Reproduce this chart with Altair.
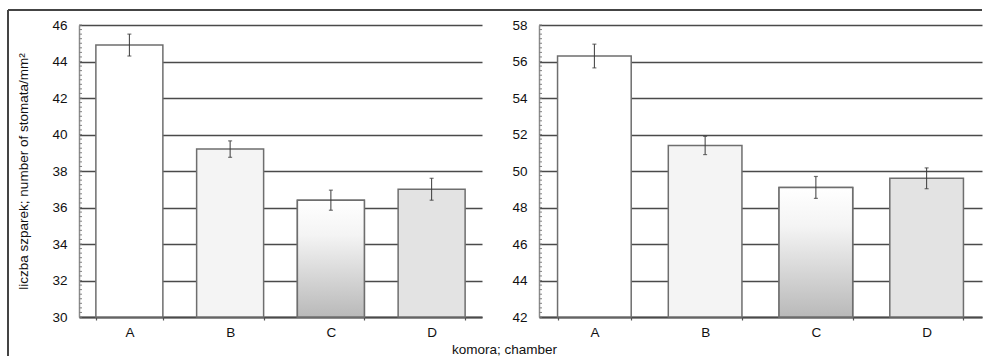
import altair as alt
import pandas as pd

# Stomata counts per chamber, two measurement series (left and right panel)
categories = ["A", "B", "C", "D"]
left_values = [44.9, 39.2, 36.4, 37.0]
left_errors = [0.6, 0.45, 0.55, 0.6]
right_values = [56.3, 51.4, 49.1, 49.6]
right_errors = [0.65, 0.5, 0.6, 0.57]
left_ticks = [30, 32, 34, 36, 38, 40, 42, 44, 46]
right_ticks = [42, 44, 46, 48, 50, 52, 54, 56, 58]
bar_fills = ["#ffffff", "#f4f4f4", "#eeeeee", "#e3e3e3"]

FONT = "Liberation Sans"
PANEL_H = 292
LEFT_W = 403
RIGHT_W = 443
GAP = 57
INK = "#4a4a4a"

c_gradient = alt.LinearGradient(
    gradient="linear",
    x1=0, y1=0, x2=0, y2=1,
    stops=[
        alt.GradientStop(color="#ffffff", offset=0),
        alt.GradientStop(color="#f4f4f4", offset=0.3),
        alt.GradientStop(color="#b9b9b9", offset=1),
    ],
)


def panel(values, errors, ticks, width, first):
    df = pd.DataFrame({
        "cat": categories,
        "value": values,
        "lo": [v - e for v, e in zip(values, errors)],
        "hi": [v + e for v, e in zip(values, errors)],
    })
    lo, hi = ticks[0], ticks[-1]
    minor = [lo + 0.25 * i for i in range(int((hi - lo) * 4) + 1)]

    yscale = alt.Scale(domain=[lo, hi], nice=False, zero=False)
    xscale = alt.Scale(domain=categories, paddingInner=0.335, paddingOuter=0.1675)

    x_kw = dict(labelAngle=0, tickBand="extent", ticks=True, tickSize=3,
                tickColor="#555555", tickWidth=1.2, domainColor=INK,
                domainWidth=2, labelPadding=5, grid=False,
                labelFontSize=13.5)
    y_kw = dict(values=ticks, grid=True, gridColor=INK, gridWidth=1.6,
                ticks=False, tickSize=0, labelPadding=12,
                domainColor="#8a8a8a", domainWidth=1.5, labelFontSize=13.5)
    if first:
        x_kw.update(title="komora; chamber", titleX=425, titleY=32,
                    titleBaseline="middle")
        y_kw.update(title="liczba szparek; number of stomata/mm²",
                    titleX=-56, titleY=PANEL_H / 2, titleBaseline="middle")
    else:
        x_kw.update(title=None)
        y_kw.update(title=None)

    x_axis = alt.Axis(**x_kw)
    y_axis = alt.Axis(**y_kw)

    base = alt.Chart(df).encode(
        x=alt.X("cat:N", scale=xscale, sort=categories, axis=x_axis)
    )

    bars = base.mark_bar(stroke="#6e6e6e", strokeWidth=1.5).encode(
        y=alt.Y("value:Q", scale=yscale, axis=y_axis),
        y2=alt.datum(lo),
        fill=alt.Fill("cat:N", scale=alt.Scale(domain=categories, range=bar_fills),
                      legend=None),
    )
    shaded = base.transform_filter(alt.datum.cat == "C").mark_bar(
        fill=c_gradient, stroke="#6e6e6e", strokeWidth=1.5
    ).encode(y=alt.Y("value:Q", scale=yscale, axis=y_axis), y2=alt.datum(lo))

    err = base.mark_rule(color="#3a3a3a", strokeWidth=1).encode(
        y=alt.Y("lo:Q", scale=yscale, axis=y_axis), y2="hi:Q"
    )
    cap_lo = base.mark_tick(color="#3a3a3a", size=4, thickness=1.2).encode(
        y=alt.Y("lo:Q", scale=yscale, axis=y_axis))
    cap_hi = base.mark_tick(color="#3a3a3a", size=4, thickness=1.2).encode(
        y=alt.Y("hi:Q", scale=yscale, axis=y_axis))

    minor_ticks = alt.Chart(pd.DataFrame({"m": minor})).mark_rule(
        color="#808080", strokeWidth=1
    ).encode(
        y=alt.Y("m:Q", scale=yscale, axis=y_axis),
        x=alt.value(0), x2=alt.value(3),
    )

    frame_data = alt.Chart(pd.DataFrame({"k": [0]}))
    layers = [bars, shaded, err, cap_lo, cap_hi, minor_ticks]
    if first:
        layers.append(frame_data.mark_rule(color="#444444", strokeWidth=2).encode(
            x=alt.value(-71), y=alt.value(-15), y2=alt.value(331)))
        layers.append(frame_data.mark_rule(color="#444444", strokeWidth=2).encode(
            x=alt.value(-71), x2=alt.value(width + GAP), y=alt.value(-15)))
    else:
        layers.append(frame_data.mark_rule(color="#444444", strokeWidth=2).encode(
            x=alt.value(-GAP), x2=alt.value(width), y=alt.value(-15)))

    return alt.layer(*layers).properties(width=width, height=PANEL_H)


left = panel(left_values, left_errors, left_ticks, LEFT_W, True)
right = panel(right_values, right_errors, right_ticks, RIGHT_W, False)

chart = alt.hconcat(left, right, spacing=GAP, bounds="flush").properties(
    padding={"left": 7, "top": 9, "right": 0, "bottom": 0},
    background="white",
).configure_view(stroke=None).configure_axis(
    labelFont=FONT, titleFont=FONT, titleFontSize=13.5,
    titleFontWeight="normal", labelColor="#111111", titleColor="#111111",
)

chart.save("out.html", embed_options={"renderer": "svg", "actions": False})
